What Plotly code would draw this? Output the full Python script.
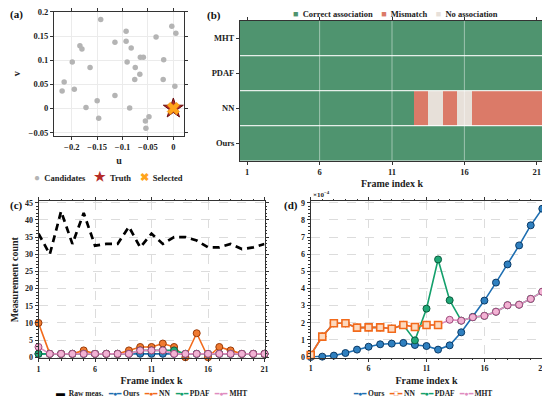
import plotly.graph_objects as go

# (a) candidate measurements around the predicted position
cand_u = [-0.143, -0.003, 0.005, -0.093, -0.034, -0.115, -0.093, -0.184, -0.180, -0.083,
          -0.065, -0.059, -0.199, -0.091, -0.019, -0.164, -0.075, -0.066, -0.076, -0.020,
          -0.215, 0.003, -0.195, -0.219, -0.115, -0.150, -0.172, -0.086, -0.048, -0.055,
          -0.147, -0.054]
cand_v = [0.184, 0.170, 0.156, 0.160, 0.148, 0.137, 0.139, 0.130, 0.123, 0.125,
          0.106, 0.106, 0.096, 0.096, 0.101, 0.085, 0.085, 0.071, 0.060, 0.060,
          0.055, 0.046, 0.040, 0.036, 0.027, 0.016, 0.002, 0.001, -0.017, -0.026,
          -0.020, -0.041]
truth_u = [0.0]
truth_v = [0.0]
sel_u = [0.0]
sel_v = [0.0]

# (b) association status: 0 correct, 1 mismatch, 2 no association
frames = list(range(1, 22))
methods = ['Ours', 'NN', 'PDAF', 'MHT']
status_ours = [0, 0, 0, 0, 0, 0, 0, 0, 0, 0, 0, 0, 0, 0, 0, 0, 0, 0, 0, 0, 0]
status_nn = [0, 0, 0, 0, 0, 0, 0, 0, 0, 0, 0, 0, 1, 2, 1, 2, 1, 1, 1, 1, 1]
status_pdaf = [0, 0, 0, 0, 0, 0, 0, 0, 0, 0, 0, 0, 0, 0, 0, 0, 0, 0, 0, 0, 0]
status_mht = [0, 0, 0, 0, 0, 0, 0, 0, 0, 0, 0, 0, 0, 0, 0, 0, 0, 0, 0, 0, 0]

# (c) measurement count
raw_count = [36, 30, 42.5, 33, 42, 32.5, 33, 33, 38, 32, 36, 33, 35, 35, 34, 32, 32, 33, 31.5, 32, 33]
ours_count = [1, 1, 1, 1, 1, 1, 1, 1, 1, 1, 1, 1, 1, 1, 1, 1, 1, 1, 1, 1, 1]
nn_count = [10, 1, 1, 1, 2, 1, 1, 1, 2, 3, 3, 4, 3, 0, 7, 0, 3, 2, 1, 1, 1]
pdaf_count = [1, 1, 1, 1, 1, 1, 1, 1, 1, 2, 2, 2, 2, 1, 1, 1, 1, 1, 1, 1, 1]
mht_count = [3, 1, 1, 1, 1, 1, 1, 1, 1, 2, 2, 2, 1, 1, 1, 1, 1, 1, 1, 1, 1]

# (d) values in units of 1e-4
ours_err = [0.0, 0.02, 0.08, 0.23, 0.43, 0.6, 0.74, 0.78, 0.82, 0.7, 0.64, 0.43, 0.68,
            1.44, 2.34, 3.29, 4.34, 5.4, 6.51, 7.68, 8.65]
nn_err = [0.12, 1.19, 1.97, 1.97, 1.71, 1.73, 1.73, 1.65, 1.87, 1.75, 1.87, 1.87,
          None, None, None, None, None, None, None, None, None]
pdaf_err = [0.12, 1.19, 1.97, 1.97, 1.71, 1.73, 1.73, 1.65, 1.87, 0.97, 2.82, 5.69, 3.31,
            2.12, 2.32, 2.4, 2.64, 3.02, 3.05, 3.39, 3.81]
mht_err = [0.12, 1.19, 1.97, 1.97, 1.71, 1.73, 1.73, 1.65, 1.87, 1.75, 1.87, 1.87, 2.17,
           2.12, 2.32, 2.4, 2.64, 3.02, 3.05, 3.39, 3.81]

FONT = 'Liberation Serif'
green = '#4F946F'
salmon = '#DB7A68'
beige = '#E7E0D9'

c_ours = ('#1F6FB2', '#2F80C0', '#0B3A66')
c_nn = ('#F26A1B', '#F07A30', '#9A3A06')
c_pdaf = ('#14A06C', '#20A877', '#0A5C3E')
c_mht = ('#E08CBF', '#F2B3D4', '#A0487C')

# page body adds an 8px margin, so lay out on a slightly smaller canvas
W, H = 542, 393


def fx(p):
    return (p - 8) / W


def fy(p):
    return 1 - (p - 8) / H


fig = go.Figure()

# ---- (a)
fig.add_trace(go.Scatter(x=cand_u, y=cand_v, mode='markers', name='Candidates',
                         marker=dict(color='#B4B4B4', size=5.5),
                         xaxis='x', yaxis='y'))
fig.add_trace(go.Scatter(x=truth_u, y=truth_v, mode='markers', name='Truth',
                         marker=dict(symbol='star', color='#B52B27', size=15,
                                     line=dict(color='#6A0E0E', width=1)),
                         xaxis='x', yaxis='y', cliponaxis=False))
fig.add_trace(go.Scatter(x=sel_u, y=sel_v, mode='markers', name='Selected',
                         marker=dict(symbol='x', color='#FFA41C', size=11,
                                     line=dict(color='#F08C00', width=0.5)),
                         xaxis='x', yaxis='y', cliponaxis=False))

# ---- (b)
fig.add_trace(go.Heatmap(x=frames, y=[0, 1, 2, 3],
                         z=[status_ours, status_nn, status_pdaf, status_mht],
                         zmin=0, zmax=2, showscale=False, hoverinfo='skip',
                         colorscale=[[0, green], [0.333, green], [0.333, salmon],
                                     [0.667, salmon], [0.667, beige], [1, beige]],
                         xaxis='x2', yaxis='y2'))

# ---- (c)
fig.add_trace(go.Scatter(x=frames, y=raw_count, mode='lines', name='Raw meas.',
                         line=dict(color='black', width=2.7, dash='7px,5px'),
                         xaxis='x3', yaxis='y3'))
for name, vals, c in [('Ours', ours_count, c_ours), ('NN', nn_count, c_nn),
                      ('PDAF', pdaf_count, c_pdaf), ('MHT', mht_count, c_mht)]:
    fig.add_trace(go.Scatter(x=frames, y=vals, mode='lines+markers', name=name,
                             line=dict(color=c[0], width=1.6),
                             marker=dict(size=7, color=c[1], line=dict(color=c[2], width=1)),
                             xaxis='x3', yaxis='y3', cliponaxis=False))

# ---- (d)  (NN drawn last so its squares sit on top)
for name, vals, c in [('Ours', ours_err, c_ours), ('PDAF', pdaf_err, c_pdaf), ('MHT', mht_err, c_mht)]:
    fig.add_trace(go.Scatter(x=frames, y=vals, mode='lines+markers', name=name,
                             line=dict(color=c[0], width=1.6),
                             marker=dict(size=7, color=c[1], line=dict(color=c[2], width=1)),
                             xaxis='x4', yaxis='y4', cliponaxis=False))
fig.add_trace(go.Scatter(x=frames, y=nn_err, mode='lines+markers', name='NN',
                         line=dict(color=c_nn[0], width=1.6),
                         marker=dict(symbol='square', size=7, color='#FDD9BE',
                                     line=dict(color=c_nn[0], width=1.6)),
                         xaxis='x4', yaxis='y4', cliponaxis=False))

base = dict(showline=True, linecolor='#333', linewidth=1, mirror='ticks', ticks='outside',
            ticklen=3, tickcolor='#333', tickfont=dict(size=8.5), zeroline=False,
            title_font=dict(size=10), automargin=False, ticklabeloverflow='allow')
dash_grid = dict(showgrid=True, gridcolor='#DCDCDC', griddash='dash', gridwidth=0.8)
minor_x = dict(ticks='outside', ticklen=1.5, dtick=1, tickcolor='#333')

fig.update_layout(
    width=W, height=H,
    margin=dict(l=0, r=0, t=0, b=0, autoexpand=False),
    paper_bgcolor='white', plot_bgcolor='white',
    font=dict(family=FONT, size=8.5, color='#222', weight='bold'),
    showlegend=False,
    xaxis=dict(base, domain=[fx(54), fx(184)], anchor='y', range=[-0.235, 0.021], dtick=0.05,
               showgrid=True, gridcolor='#EBEBEB', title=dict(text='u', standoff=5)),
    yaxis=dict(base, domain=[fy(136), fy(11.5)], anchor='x', range=[-0.057, 0.2008], dtick=0.05,
               showgrid=True, gridcolor='#EBEBEB', title=dict(text='v', standoff=6)),
    xaxis2=dict(base, domain=[fx(240), fx(544)], anchor='y2', range=[0.5, 21.5],
                tickvals=[1, 6, 11, 16, 21], showgrid=False,
                title=dict(text='Frame index k', standoff=4)),
    yaxis2=dict(base, domain=[fy(160.7), fy(20.7)], anchor='x2', range=[-0.5, 3.5],
                tickvals=[0, 1, 2, 3], ticktext=methods, showgrid=False),
    xaxis3=dict(base, **dash_grid, domain=[fx(38.5), fx(264.5)], anchor='y3', range=[1, 21],
                tickvals=[1, 6, 11, 16, 21], tickfont=dict(size=8), minor=minor_x,
                title=dict(text='Frame index k', standoff=4)),
    yaxis3=dict(base, **dash_grid, domain=[fy(358.3), fy(201)], anchor='x3', range=[-0.3, 45.5],
                dtick=5, tickfont=dict(size=8),
                minor=dict(ticks='outside', ticklen=1.5, dtick=1, tickcolor='#333'),
                title=dict(text='Measurement count', standoff=4)),
    xaxis4=dict(base, **dash_grid, domain=[fx(310.7), fx(542.3)], anchor='y4', range=[1, 21],
                tickvals=[1, 6, 11, 16, 21], tickfont=dict(size=8), minor=minor_x,
                title=dict(text='Frame index k', standoff=4)),
    yaxis4=dict(base, **dash_grid, domain=[fy(357.5), fy(201)], anchor='x4', range=[-0.03, 9.1],
                dtick=1, tickfont=dict(size=8),
                minor=dict(ticks='outside', ticklen=1.5, dtick=0.2, tickcolor='#333')),
)

# grid lines over the status map
for k in [6, 11, 16]:
    fig.add_shape(type='line', xref='x2', yref='y2', x0=k, x1=k, y0=-0.5, y1=3.5,
                  line=dict(color='rgba(255,255,255,0.45)', width=1), layer='above')
for r in [0.5, 1.5, 2.5]:
    fig.add_shape(type='line', xref='x2', yref='y2', x0=0.5, x1=21.5, y0=r, y1=r,
                  line=dict(color='rgba(255,255,255,0.85)', width=1.2), layer='above')

# panel letters
for txt, x, y in [('(a)', 8, 15), ('(b)', 205, 16), ('(c)', 8, 206), ('(d)', 282, 205)]:
    fig.add_annotation(text=txt, xref='paper', yref='paper', x=fx(x), y=fy(y), showarrow=False,
                       xanchor='left', yanchor='middle', font=dict(size=11, family=FONT, color='#111'))
fig.add_annotation(text='×10<sup>−4</sup>', xref='paper', yref='paper', x=fx(311), y=fy(201),
                   showarrow=False, xanchor='left', yanchor='bottom', font=dict(size=7))

# legends
sp = '\u00a0\u00a0\u00a0\u00a0'


def glyph(sym, col, size=8):
    return '<span style="color:%s;font-size:%dpx">%s</span>' % (col, size, sym)


leg_a = (glyph('●', '#B4B4B4', 10) + '\u00a0 Candidates' + sp + glyph('★', '#B52B27', 13) +
         '\u00a0 Truth' + sp + glyph('✖', '#FFA41C', 11) + '\u00a0 Selected')
leg_b = (glyph('■', green, 9) + '\u00a0 Correct association' + sp + glyph('■', salmon, 9) +
         '\u00a0 Mismatch' + sp + glyph('■', beige, 9) + '\u00a0 No association')
leg_c = (glyph('▬', 'black', 9) + '\u00a0 Raw meas.' + '\u00a0\u00a0\u00a0' +
         glyph('━●━', c_ours[0], 7) + ' Ours' + '\u00a0\u00a0\u00a0' + glyph('━●━', c_nn[0], 7) + ' NN' +
         '\u00a0\u00a0\u00a0' + glyph('━●━', c_pdaf[0], 7) + ' PDAF' + '\u00a0\u00a0\u00a0' +
         glyph('━●━', c_mht[0], 7) + ' MHT')
leg_d = (glyph('━●━', c_ours[0], 7) + ' Ours' + '\u00a0\u00a0\u00a0' + glyph('━□━', c_nn[0], 7) + ' NN' +
         '\u00a0\u00a0\u00a0' + glyph('━●━', c_pdaf[0], 7) + ' PDAF' + '\u00a0\u00a0\u00a0' +
         glyph('━●━', c_mht[0], 7) + ' MHT')
for txt, x, y, size in [(leg_a, 108, 176, 8.5), (leg_b, 395, 14, 8.5),
                        (leg_c, 151, 393, 7.5), (leg_d, 422, 393, 7.5)]:
    fig.add_annotation(text=txt, xref='paper', yref='paper', x=fx(x), y=fy(y), showarrow=False,
                       xanchor='center', yanchor='middle', font=dict(size=size, family=FONT, color='#222'))

fig.write_html('out.html')
